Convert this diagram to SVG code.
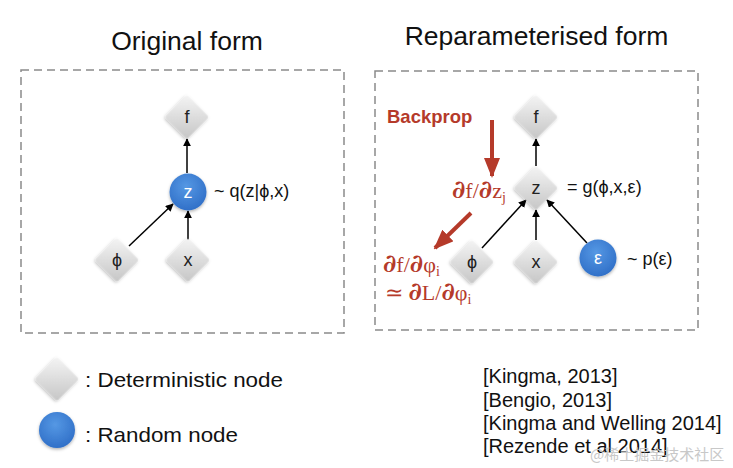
<svg xmlns="http://www.w3.org/2000/svg" width="733" height="468" viewBox="0 0 733 468">
<defs>
  <linearGradient id="gDiam" x1="0" y1="0" x2="1" y2="1">
    <stop offset="0" stop-color="#f4f4f4"/>
    <stop offset="1" stop-color="#c6c6c6"/>
  </linearGradient>
  <radialGradient id="gBlue" cx="0.45" cy="0.35" r="0.7">
    <stop offset="0" stop-color="#5598e4"/>
    <stop offset="1" stop-color="#2e6dc6"/>
  </radialGradient>
  <filter id="sh" x="-40%" y="-40%" width="180%" height="180%">
    <feDropShadow dx="0" dy="1.5" stdDeviation="1.5" flood-color="#000" flood-opacity="0.3"/>
  </filter>
  <marker id="ah" viewBox="0 0 10 10" refX="9" refY="5" markerWidth="8" markerHeight="8" markerUnits="userSpaceOnUse" orient="auto">
    <path d="M0,0 L10,5 L0,10 Z" fill="#000"/>
  </marker>
  <marker id="rh" viewBox="0 0 10 10" refX="9" refY="5" markerWidth="20" markerHeight="16" markerUnits="userSpaceOnUse" orient="auto" preserveAspectRatio="none">
    <path d="M0,0 L10,5 L0,10 Z" fill="#b53a2a"/>
  </marker>
  <rect id="dia" x="-15.5" y="-15.5" width="31" height="31" rx="2" fill="url(#gDiam)" filter="url(#sh)"/>
</defs>
<style>
  .box{fill:none;stroke:#8a8a8a;stroke-width:1.5;stroke-dasharray:8 5}
  .title{font-family:"Liberation Sans",Arial,sans-serif;font-size:26.5px;fill:#111;text-anchor:middle}
  .lbl{font-family:"Liberation Sans",Arial,sans-serif;font-size:18px;fill:#222;text-anchor:middle}
  .wlbl{font-family:"Liberation Sans",Arial,sans-serif;font-size:18px;fill:#fff;text-anchor:middle}
  .eq{font-family:"Liberation Sans",Arial,sans-serif;font-size:18px;fill:#111}
  .leg{font-family:"Liberation Sans",Arial,sans-serif;font-size:21px;fill:#111}
  .ref{font-family:"Liberation Sans",Arial,sans-serif;font-size:20px;fill:#111}
  .red{fill:#b53a2a}
  .bp{font-family:"Liberation Sans",Arial,sans-serif;font-size:18.5px;font-weight:bold}
  .math{font-family:"Liberation Serif","Times New Roman",serif;font-size:22px}
  .d{font-weight:bold;font-size:25px;font-family:"DejaVu Serif","Liberation Serif",serif}
  .sub{font-size:14px}
  .conn{stroke:#000;stroke-width:1.5;fill:none;marker-end:url(#ah)}
  .rconn{stroke:#b53a2a;stroke-width:4;fill:none;marker-end:url(#rh)}
  .wm{font-family:"Noto Sans CJK SC","Liberation Sans",sans-serif;font-size:15px;fill:#c8c8c8}
</style>

<text class="title" x="187" y="50">Original form</text>
<text class="title" x="536.5" y="45">Reparameterised form</text>

<rect class="box" x="21" y="70" width="323" height="263"/>
<rect class="box" x="375" y="71" width="323" height="259"/>

<g id="connectors">
  <line class="conn" x1="187" y1="173" x2="187" y2="139"/>
  <line class="conn" x1="129" y1="246" x2="173" y2="204"/>
  <line class="conn" x1="188" y1="240" x2="188" y2="211"/>
  <line class="conn" x1="536" y1="166" x2="536" y2="139"/>
  <line class="conn" x1="482" y1="248" x2="526" y2="200"/>
  <line class="conn" x1="536" y1="240" x2="536" y2="210"/>
  <line class="conn" x1="587" y1="243" x2="547" y2="200"/>
  <line class="rconn" x1="492" y1="120" x2="492" y2="176"/>
  <line class="rconn" x1="471" y1="213" x2="435" y2="248"/>
</g>

<g id="L_f"><use href="#dia" transform="translate(187,117) rotate(45)"/><text class="lbl" x="187" y="123">f</text></g>
<g id="L_z"><circle cx="188" cy="192" r="18.5" fill="url(#gBlue)" filter="url(#sh)"/><text class="wlbl" x="188" y="198">z</text></g>
<g id="L_phi"><use href="#dia" transform="translate(117,260) rotate(45)"/><text class="lbl" x="117" y="266">ϕ</text></g>
<g id="L_x"><use href="#dia" transform="translate(188,260) rotate(45)"/><text class="lbl" x="188" y="266">x</text></g>
<text class="eq" x="214" y="197">~ q(z|ϕ,x)</text>

<g id="R_f"><use href="#dia" transform="translate(536,117) rotate(45)"/><text class="lbl" x="536" y="123">f</text></g>
<g id="R_z"><use href="#dia" transform="translate(536,188) rotate(45)"/><text class="lbl" x="536" y="194">z</text></g>
<g id="R_phi"><use href="#dia" transform="translate(472,262) rotate(45)"/><text class="lbl" x="472" y="268">ϕ</text></g>
<g id="R_x"><use href="#dia" transform="translate(536,262) rotate(45)"/><text class="lbl" x="536" y="268">x</text></g>
<g id="R_eps"><circle cx="598" cy="258" r="18.5" fill="url(#gBlue)" filter="url(#sh)"/><text class="wlbl" x="598" y="264">ε</text></g>
<text class="eq" x="567" y="193">= g(ϕ,x,ε)</text>
<text class="eq" x="627" y="265">~ p(ε)</text>

<text class="bp red" x="387" y="123">Backprop</text>
<text class="math red" x="452" y="198"><tspan class="d">∂</tspan>f/<tspan class="d">∂</tspan>z<tspan class="sub" dy="4">j</tspan></text>
<text class="math red" x="383" y="272"><tspan class="d">∂</tspan>f/<tspan class="d">∂</tspan>φ<tspan class="sub" dy="4">i</tspan></text>
<text class="math red" x="385" y="300">≃ <tspan class="d">∂</tspan>L/<tspan class="d">∂</tspan>φ<tspan class="sub" dy="4">i</tspan></text>

<g id="legend_det"><use href="#dia" transform="translate(57,379) rotate(45)"/></g>
<text class="leg" x="85" y="387" textLength="198" lengthAdjust="spacingAndGlyphs">: Deterministic node</text>
<g id="legend_rand"><circle cx="57" cy="430" r="18" fill="url(#gBlue)" filter="url(#sh)"/></g>
<text class="leg" x="85" y="442" textLength="153" lengthAdjust="spacingAndGlyphs">: Random node</text>

<g id="refs" class="ref">
  <text x="483" y="383">[Kingma, 2013]</text>
  <text x="483" y="407">[Bengio, 2013]</text>
  <text x="483" y="430">[Kingma and Welling 2014]</text>
  <text x="483" y="453">[Rezende et al 2014]</text>
</g>
<text class="wm" x="590" y="460">@稀土掘金技术社区</text>
</svg>
